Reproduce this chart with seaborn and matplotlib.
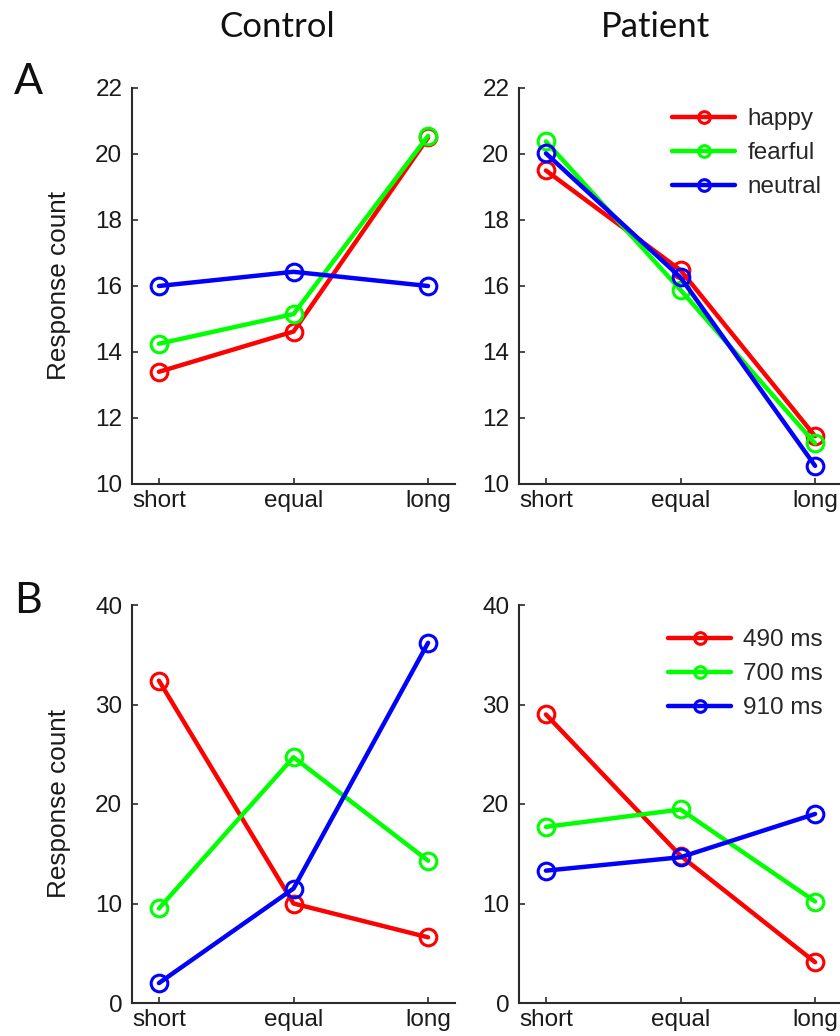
import numpy as np
import pandas as pd
import matplotlib
matplotlib.use("Agg")
import matplotlib.pyplot as plt
import seaborn as sns

# ---- data ----
conditions = ["short", "equal", "long"]

emotion_labels = ["happy", "fearful", "neutral"]
control_emotion_happy = [13.4, 14.62, 20.5]
control_emotion_fearful = [14.25, 15.15, 20.55]
control_emotion_neutral = [16.0, 16.43, 16.0]
patient_emotion_happy = [19.5, 16.48, 11.45]
patient_emotion_fearful = [20.38, 15.88, 11.23]
patient_emotion_neutral = [20.02, 16.26, 10.55]

duration_labels = ["490 ms", "700 ms", "910 ms"]
control_dur_490 = [32.4, 10.0, 6.6]
control_dur_700 = [9.5, 24.7, 14.3]
control_dur_910 = [2.0, 11.5, 36.2]
patient_dur_490 = [29.0, 14.8, 4.1]
patient_dur_700 = [17.7, 19.45, 10.2]
patient_dur_910 = [13.3, 14.65, 19.0]

series_colors = ["#ff0000", "#00ff00", "#0000ff"]

def long_df(labels, series):
    rows = []
    for lab, vals in zip(labels, series):
        for c, v in zip(conditions, vals):
            rows.append({"condition": c, "series": lab, "count": v})
    return pd.DataFrame(rows)

panels = [
    (long_df(emotion_labels, [control_emotion_happy, control_emotion_fearful, control_emotion_neutral]),
     emotion_labels, (10, 22), [10, 12, 14, 16, 18, 20, 22]),
    (long_df(emotion_labels, [patient_emotion_happy, patient_emotion_fearful, patient_emotion_neutral]),
     emotion_labels, (10, 22), [10, 12, 14, 16, 18, 20, 22]),
    (long_df(duration_labels, [control_dur_490, control_dur_700, control_dur_910]),
     duration_labels, (0, 40), [0, 10, 20, 30, 40]),
    (long_df(duration_labels, [patient_dur_490, patient_dur_700, patient_dur_910]),
     duration_labels, (0, 40), [0, 10, 20, 30, 40]),
]

sns.set_theme(style="white")
plt.rcParams["font.family"] = ["Liberation Sans", "DejaVu Sans"]

W, H = 840, 1036
fig = plt.figure(figsize=(W / 100, H / 100), dpi=100)

def rect(l, r, t, b):
    return [l / W, 1 - b / H, (r - l) / W, (b - t) / H]

rects = [rect(132, 455, 88, 484), rect(519, 842, 88, 484),
         rect(132, 455, 605, 1003), rect(519, 842, 605, 1003)]

legend_pos = {1: (672, 108), 3: (668, 629)}
spine_color = "#2b2b2b"

for i, ((df, labels, ylim, yticks), rc) in enumerate(zip(panels, rects)):
    ax = fig.add_axes(rc)
    sns.lineplot(data=df, x="condition", y="count", hue="series",
                 hue_order=labels, palette=series_colors, sort=False,
                 marker="o", markersize=12, mfc="none", mew=2.2,
                 linewidth=3.2, legend=False, ax=ax)
    for ln in ax.lines:
        ln.set_markeredgecolor(ln.get_color())
        ln.set_markerfacecolor("none")
    ax.set_xlim(-0.2, 2.2)
    ax.set_ylim(*ylim)
    ax.set_yticks(yticks)
    ax.set_xticks(range(len(conditions)))
    ax.set_xticklabels(conditions)
    ax.set_xlabel("")
    sns.despine(ax=ax)
    for s in ["left", "bottom"]:
        ax.spines[s].set_color(spine_color)
        ax.spines[s].set_linewidth(1.5)
    ax.tick_params(axis="both", direction="in", length=4, width=1.2,
                   color=spine_color, labelsize=17.5, labelcolor="#1a1a1a")
    ax.tick_params(axis="y", pad=7, left=True)
    ax.tick_params(axis="x", pad=4, bottom=True)
    if i in (0, 2):
        ax.set_ylabel("Response count", fontsize=18.8, color="#1a1a1a")
        ax.yaxis.set_label_coords(-0.19, 0.5)
    else:
        ax.set_ylabel("")
    if i in legend_pos:
        lx, ly = legend_pos[i]
        ax.legend(handles=ax.lines, labels=labels, loc="upper left",
                  bbox_to_anchor=(lx / W, 1 - ly / H),
                  bbox_transform=fig.transFigure, frameon=False,
                  fontsize=17.5, handlelength=2.6, handletextpad=0.5,
                  labelspacing=0.5, borderpad=0, borderaxespad=0,
                  markerscale=0.7)

title_font = ["Lato", "DejaVu Sans"]
fig.text(277 / W, 1 - 27 / H, "Control", ha="center", va="center",
         fontsize=25, family=title_font, color="#111111")
fig.text(655 / W, 1 - 27 / H, "Patient", ha="center", va="center",
         fontsize=25, family=title_font, color="#111111")
fig.text(28 / W, 1 - 82 / H, "A", ha="center", va="center",
         fontsize=31, family=title_font, color="#111111")
fig.text(28 / W, 1 - 601 / H, "B", ha="center", va="center",
         fontsize=31, family=title_font, color="#111111")

fig.savefig("out.png", dpi=100, facecolor="white")
